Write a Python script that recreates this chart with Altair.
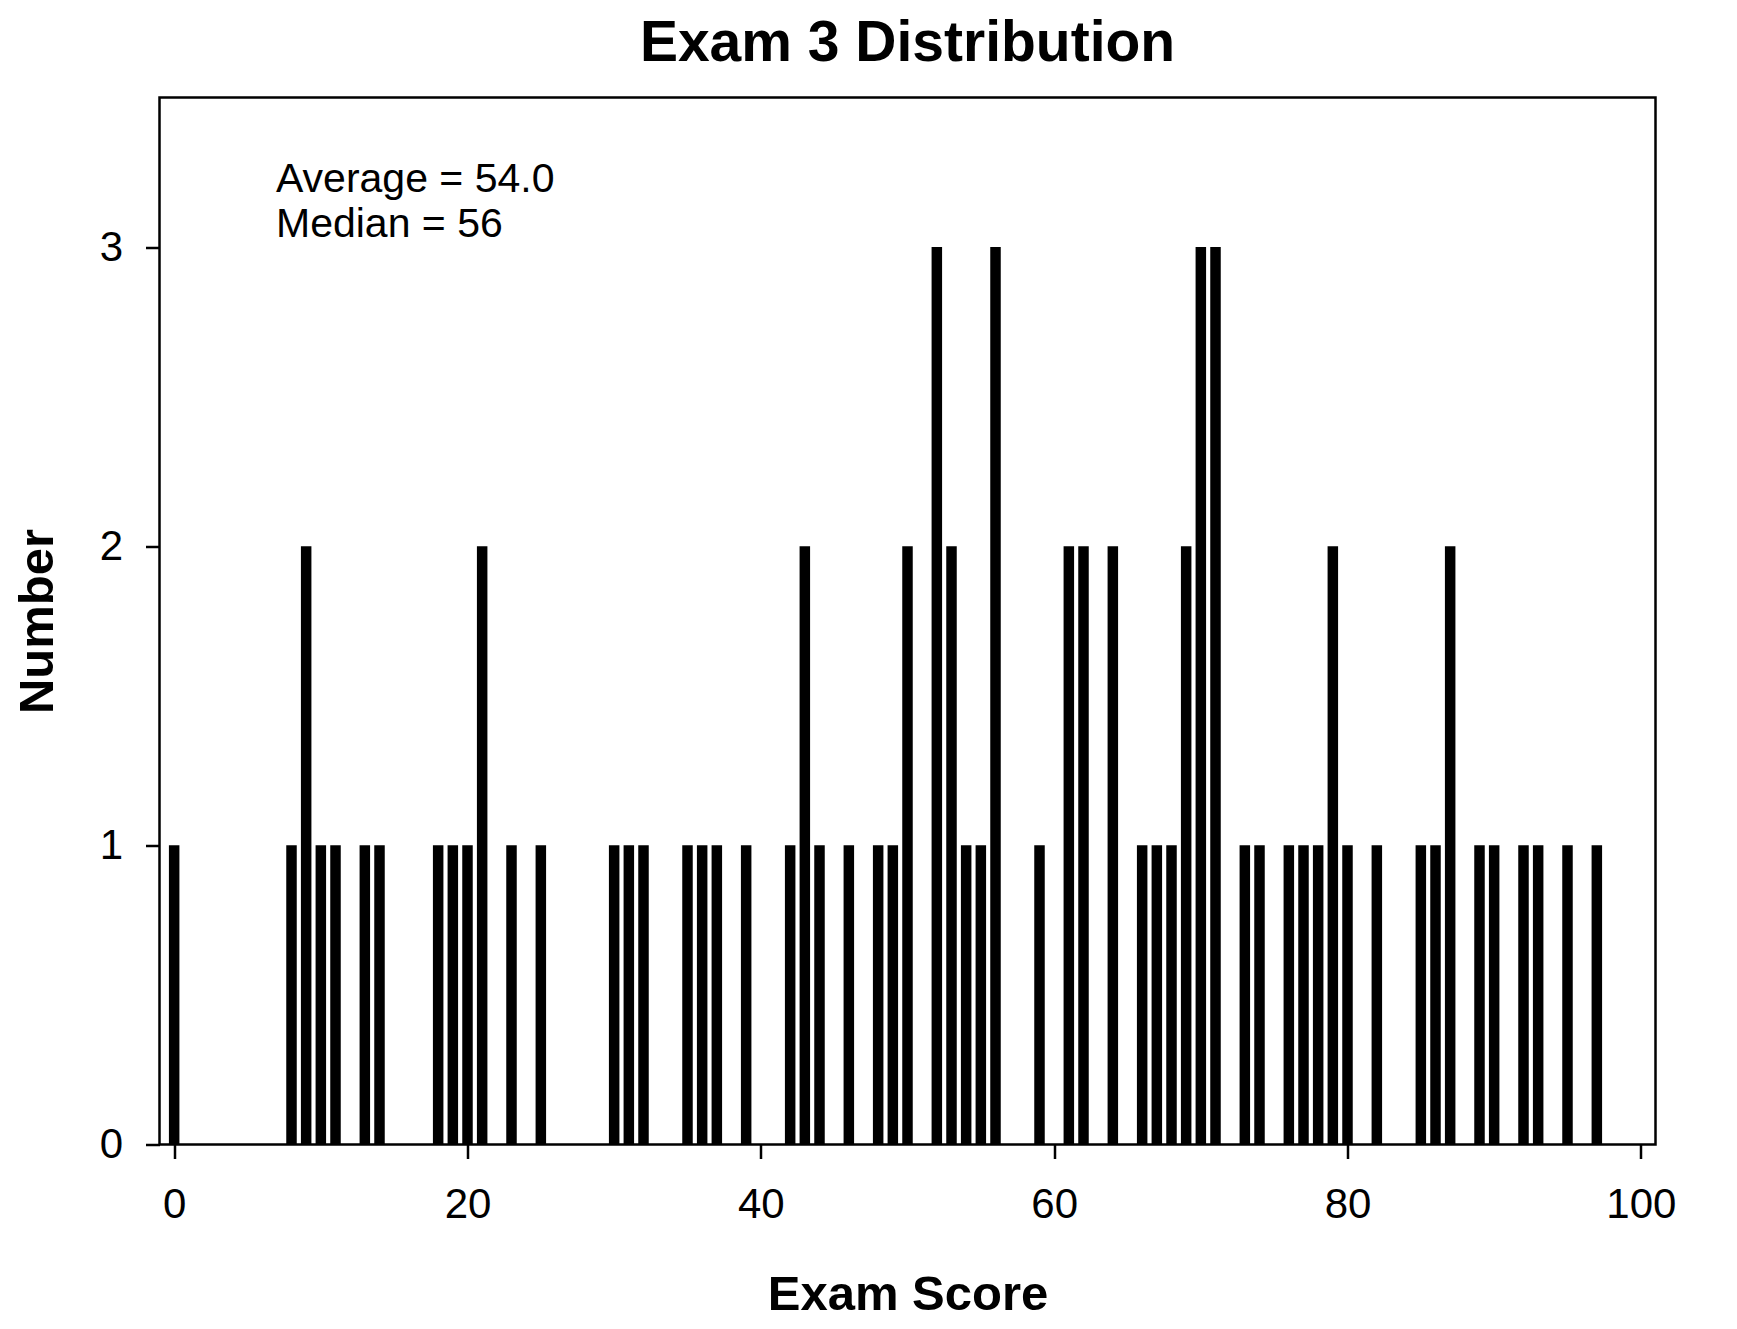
import altair as alt
import pandas as pd

# Histogram data: exam score -> number of students
scores = [0, 8, 9, 10, 11, 13, 14, 18, 19, 20, 21, 23, 25, 30, 31, 32, 35, 36, 37, 39,
          42, 43, 44, 46, 48, 49, 50, 52, 53, 54, 55, 56, 59, 61, 62, 64, 66, 67, 68, 69,
          70, 71, 73, 74, 76, 77, 78, 79, 80, 82, 85, 86, 87, 89, 90, 92, 93, 95, 97]
counts = [1, 1, 2, 1, 1, 1, 1, 1, 1, 1, 2, 1, 1, 1, 1, 1, 1, 1, 1, 1,
          1, 2, 1, 1, 1, 1, 2, 3, 2, 1, 1, 3, 1, 2, 2, 2, 1, 1, 1, 2,
          3, 3, 1, 1, 1, 1, 1, 2, 1, 1, 1, 1, 2, 1, 1, 1, 1, 1, 1]

x_ticks = [0, 20, 40, 60, 80, 100]
y_ticks = [0, 1, 2, 3]
annotation_lines = ["Average = 54.0", "Median = 56"]
chart_title = ["Exam 3 Distribution"]

FONT = "Liberation Sans"

df = pd.DataFrame({"score": scores, "count": counts})
ann = pd.DataFrame({"label": ["\n".join(annotation_lines)]})
ttl = pd.DataFrame({"label": chart_title})

W, H = 1496, 1047

bars = alt.Chart(df).mark_bar(size=10.5, color="black").encode(
    x=alt.X(
        "score:Q",
        scale=alt.Scale(domain=[-1, 101], nice=False, zero=False, padding=0),
        axis=alt.Axis(
            values=x_ticks,
            title="Exam Score",
            titleFont=FONT,
            titleFontSize=49,
            titleFontWeight="bold",
            titleColor="black",
            titleX=W / 2,
            titleY=165,
            titleBaseline="alphabetic",
            titleAlign="center",
            labelFont=FONT,
            labelFontSize=42,
            labelColor="black",
            labelPadding=26,
            tickSize=14,
            tickWidth=2.5,
            tickColor="black",
            domain=False,
            grid=False,
            labelFlush=False,
        ),
    ),
    y=alt.Y(
        "count:Q",
        scale=alt.Scale(domain=[0, 3.5], nice=False, padding=0),
        axis=alt.Axis(
            values=y_ticks,
            title="Number",
            titleFont=FONT,
            titleFontSize=49,
            titleFontWeight="bold",
            titleColor="black",
            titleAngle=270,
            titleX=-107,
            titleY=H / 2,
            titleBaseline="alphabetic",
            titleAlign="center",
            labelFont=FONT,
            labelFontSize=42,
            labelColor="black",
            labelPadding=23,
            tickSize=14,
            tickWidth=2.5,
            tickColor="black",
            domain=False,
            grid=False,
            labelFlush=False,
        ),
    ),
)

text = alt.Chart(ann).mark_text(
    align="left",
    baseline="alphabetic",
    font=FONT,
    fontSize=41,
    lineHeight=45,
    lineBreak="\n",
    color="black",
).encode(
    text="label:N",
    x=alt.value(116.5),
    y=alt.value(94),
)

title = alt.Chart(ttl).mark_text(
    align="center",
    baseline="alphabetic",
    font=FONT,
    fontSize=57,
    fontWeight="bold",
    color="black",
).encode(
    text="label:N",
    x=alt.value(W / 2),
    y=alt.value(-36.5),
)

chart = (
    alt.layer(bars, text, title)
    .properties(
        width=W,
        height=H,
        padding={"left": 151.5, "top": 89.5, "right": 73, "bottom": 176.5},
        autosize=alt.AutoSizeParams(type="none"),
        background="white",
    )
    .configure_view(stroke="black", strokeWidth=2.5)
)

chart.save("out.html", embed_options={"renderer": "svg", "actions": False})
